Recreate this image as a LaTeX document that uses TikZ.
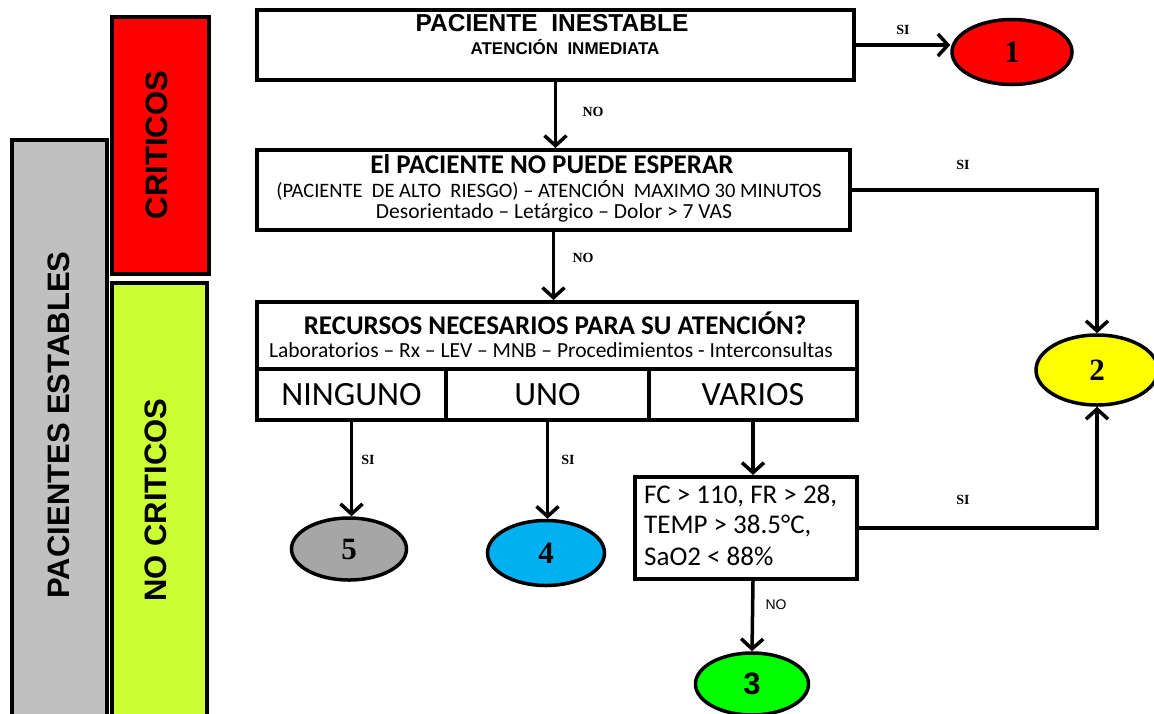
\documentclass[tikz,border=0pt]{standalone}
\usepackage{fontspec}
\setmainfont{Liberation Serif}
\newfontfamily\arialf{Liberation Sans}
\newfontfamily\calf{Carlito}
\usetikzlibrary{arrows.meta,shapes.geometric,calc}
\definecolor{bargray}{HTML}{C0C0C0}
\definecolor{barred}{HTML}{FF0000}
\definecolor{bargreen}{HTML}{CCFF33}
\definecolor{elgray}{HTML}{A6A6A6}
\definecolor{elcyan}{HTML}{00B0F0}
\definecolor{elgreen}{HTML}{00FF00}
\definecolor{elyellow}{HTML}{FFFF00}
\begin{document}
\begin{tikzpicture}[x=1pt,y=-1pt,
  barbox/.style={draw,line width=4pt,rectangle,inner sep=0pt,anchor=north west},
  flowbox/.style={draw,line width=4pt,rectangle,inner sep=0pt,anchor=north west,fill=white},
  bartext/.style={rotate=90,font=\arialf\bfseries\fontsize{31}{31}\selectfont},
  endnode/.style={draw,ellipse,line width=3.5pt,inner sep=0pt,font=\bfseries\fontsize{31}{31}\selectfont},
  conn/.style={line width=3.5pt,-{Straight Barb[length=10pt,width=22pt,line width=3.5pt]}},
  lbl/.style={font=\bfseries\fontsize{14}{14}\selectfont,inner sep=0pt},
  txt/.style={inner sep=0pt},
  celltext/.style={font=\calf\fontsize{34}{34}\selectfont}]
\useasboundingbox (0,0) rectangle (1154,713);

% side bars
\node[barbox,fill=bargray,minimum width=95,minimum height=580] (gray) at (10,138) {};
\node[barbox,fill=barred,minimum width=97,minimum height=257] (red) at (110,15) {};
\node[barbox,fill=bargreen,minimum width=95,minimum height=440] (green) at (110,281) {};
\node[bartext] (grayt) at (59,425) {PACIENTES ESTABLES};
\node[bartext] (redt) at (157,145) {CRITICOS};
\node[bartext] (greent) at (156,500) {NO CRITICOS};

% box 1
\node[flowbox,minimum width=597,minimum height=70] (b1) at (255,8) {};
\node[txt,font=\arialf\bfseries\fontsize{24.5}{24.5}\selectfont] (b1a) at (552,23) {PACIENTE\ \ INESTABLE};
\node[txt,font=\arialf\bfseries\fontsize{17}{17}\selectfont] (b1b) at (565,47) {ATENCI\'ON\ \ INMEDIATA};

% box 2
\node[flowbox,minimum width=593,minimum height=80] (b2) at (255,148) {};
\node[txt,font=\calf\bfseries\fontsize{27}{27}\selectfont] (b2a) at (552,164) {El PACIENTE NO PUEDE\ ESPERAR};
\node[txt,font=\calf\fontsize{20.5}{20.5}\selectfont] (b2b) at (549,190) {(PACIENTE\ \ DE ALTO\ \ RIESGO) – ATENCI\'ON\ \ MAXIMO 30 MINUTOS};
\node[txt,font=\calf\fontsize{21.5}{21.5}\selectfont] (b2c) at (554,213) {Desorientado – Let\'argico – Dolor > 7 VAS};

% box 3
\node[flowbox,minimum width=600,minimum height=67] (b3) at (255,300) {};
\node[txt,font=\calf\bfseries\fontsize{27}{27}\selectfont] (b3a) at (555,323) {RECURSOS NECESARIOS PARA SU ATENCI\'ON?};
\node[txt,font=\calf\fontsize{21.5}{21.5}\selectfont] (b3b) at (551,350) {Laboratorios – Rx – LEV – MNB – Procedimientos - Interconsultas};
\node[flowbox,minimum width=189,minimum height=51,celltext] (ning) at (255,367) {NINGUNO};
\node[flowbox,minimum width=203,minimum height=51,celltext] (uno) at (444,367) {UNO};
\node[flowbox,minimum width=208,minimum height=51,celltext] (var) at (647,367) {VARIOS};

% box 4
\node[flowbox,minimum width=222,minimum height=102] (b4) at (633,475) {};
\node[txt,anchor=west,font=\calf\fontsize{27}{27}\selectfont] (b4a) at (644,496) {FC > 110, FR > 28,};
\node[txt,anchor=west,font=\calf\fontsize{27}{27}\selectfont] (b4b) at (644,526) {TEMP > 38.5\textdegree C,};
\node[txt,anchor=west,font=\calf\fontsize{27}{27}\selectfont] (b4c) at (644,556) {SaO2 < 88\%};

% end ellipses
\node[endnode,fill=barred,minimum width=120,minimum height=65] (e1) at (1012,52) {1};
\node[endnode,fill=elyellow,minimum width=122,minimum height=70] (e2) at (1097,370) {2};
\node[endnode,fill=elgreen,minimum width=113,minimum height=62] (e3) at (752,684) {\arialf\bfseries 3};
\node[endnode,fill=elcyan,minimum width=117,minimum height=65] (e4) at (546,553) {4};
\node[endnode,fill=elgray,minimum width=115,minimum height=62] (e5) at (349,549) {5};

% connectors
\draw[conn] (b1.east) -- (e1.west |- b1.east);
\draw[conn] (b1.south) -- (b1.south |- b2.north);
\draw[conn] (b2.south) -- (b2.south |- b3.north);
\draw[conn] (b2.east) -| (e2.north);
\draw[conn] (ning.south) -- (ning.south |- e5.north);
\draw[conn] (uno.south) -- (uno.south |- e4.north);
\coordinate (v4) at ($(var.south)$);
\draw[conn] (v4) -- (v4 |- b4.north);
\draw[conn] (v4 |- b4.south) -- (e3.north);
\draw[conn] (b4.east) -| (e2.south);

% labels
\node[lbl] (l1) at (903,30) {SI};
\node[lbl] (l2) at (593,112) {NO};
\node[lbl] (l3) at (963,165) {SI};
\node[lbl] (l4) at (583,258) {NO};
\node[lbl] (l5) at (368,460) {SI};
\node[lbl] (l6) at (568,460) {SI};
\node[lbl] (l7) at (963,500) {SI};
\node[lbl,font=\arialf\fontsize{14}{14}\selectfont] (l8) at (776,605) {NO};
\end{tikzpicture}
\end{document}
